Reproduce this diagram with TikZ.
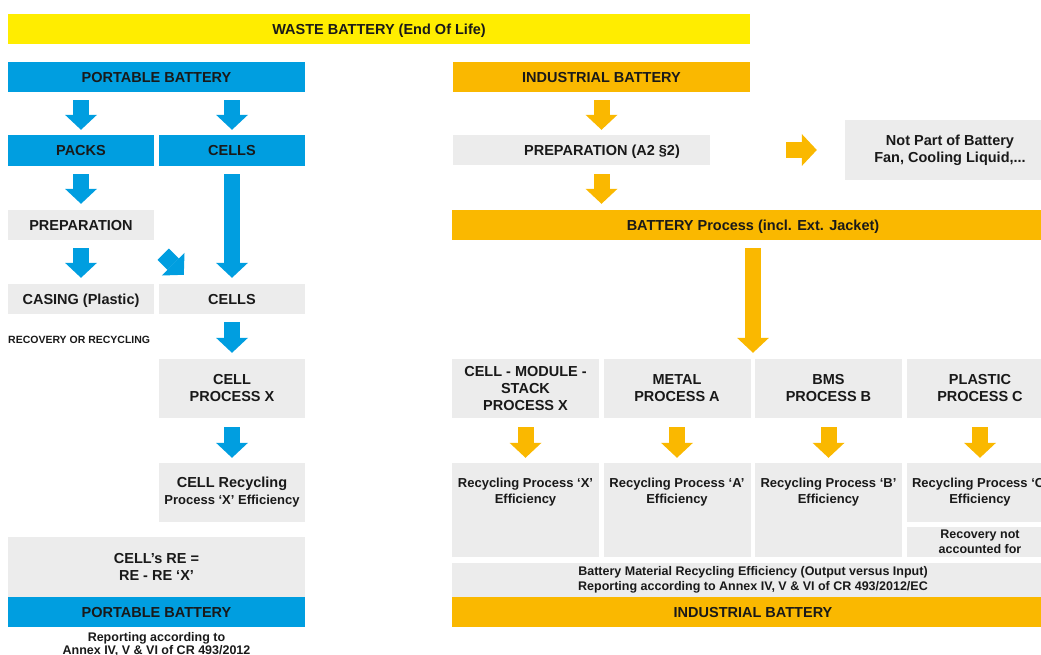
\documentclass[tikz,border=0pt]{standalone}
\usepackage{fontspec}
\setmainfont{Liberation Sans}
\usepackage{tikz}
\usetikzlibrary{positioning, arrows.meta, calc}
\definecolor{BatBlue}{RGB}{0,158,224}
\definecolor{BatOrange}{RGB}{250,184,0}
\definecolor{BatYellow}{RGB}{255,237,0}
\definecolor{BatGray}{RGB}{236,236,236}

\begin{document}
\begin{tikzpicture}[x=1pt, y=-1pt,
            box/.style={rectangle, inner sep=0pt, align=center, text=black!90,
                        font=\bfseries\fontsize{14.5}{17}\selectfont},
            single/.style={text height=10.4pt, text depth=0pt},
            small/.style={font=\bfseries\fontsize{13}{16}\selectfont},
            note/.style={inner sep=0pt, align=center, text=black!90,
                         font=\bfseries\fontsize{10.5}{12}\selectfont},
            lbl/.style={small, inner sep=0pt, align=center, text=black!90},
            wh/.style 2 args={minimum width=#1, minimum height=#2},
            bbox/.style={box, fill=BatBlue},
            obox/.style={box, fill=BatOrange},
            gbox/.style={box, fill=BatGray},
            ybox/.style={box, fill=BatYellow},
            barr/.style={-{Triangle[width=32pt, length=15pt, line width=0pt]},
                         line width=16pt, draw=BatBlue},
            oarr/.style={barr, draw=BatOrange}
          ]
          \useasboundingbox (0,0) rectangle (1041,655);
          \clip (0,0) rectangle (1041,655);

          \node[ybox, single, wh={742pt}{30pt}] (waste) at (379,29) {WASTE BATTERY (End Of Life)};

          % portable side
          \node[bbox, single, wh={297pt}{30pt}] (pbtop) at (156.5,77) {PORTABLE BATTERY};
          \node[bbox, single, wh={146pt}{31pt}] (packs) at (81,150.5) {PACKS};
          \node[bbox, single, wh={146pt}{31pt}] (cellsa) at (232,150.5) {CELLS};
          \node[gbox, single, wh={146pt}{30pt}] (prep) at (81,225) {PREPARATION};
          \node[gbox, single, wh={146pt}{30pt}] (casing) at (81,299) {CASING (Plastic)};
          \node[gbox, single, wh={146pt}{30pt}] (cellsb) at (232,299) {CELLS};
          \node[note, anchor=west] (recov) at (8,340) {RECOVERY OR RECYCLING};
          \node[gbox, wh={146pt}{59pt}] (cproc) at (232,388.5) {CELL\\PROCESS X};
          \node[gbox, wh={146pt}{59pt}] (crec) at (232,492.5)
                {CELL Recycling\\{\fontsize{13}{16}\selectfont Process ‘X’ Efficiency}};
          \node[gbox, wh={297pt}{60pt}] (cre) at (156.5,567) {CELL’s RE =\\RE - RE ‘X’};
          \node[bbox, single, wh={297pt}{30pt}] (pbbot) at (156.5,612) {PORTABLE BATTERY};
          \node[lbl, font=\bfseries\fontsize{12.5}{13}\selectfont, anchor=north] (report)
                at (156.5,632) {Reporting according to\\Annex IV, V \& VI of CR 493/2012};

          \draw[barr, shorten <=8pt, shorten >=5pt] (packs.north |- pbtop.south) -- (packs.north);
          \draw[barr, shorten <=8pt, shorten >=5pt] (cellsa.north |- pbtop.south) -- (cellsa.north);
          \draw[barr, shorten <=8pt, shorten >=6pt] (packs) -- (prep);
          \draw[barr, shorten <=8pt, shorten >=6pt] (prep) -- (casing);
          \draw[barr, shorten <=8pt, shorten >=6pt] (cellsa) -- (cellsb);
          \draw[barr] ($(prep.south east)+(9,14)$) -- ($(cellsb.north west)+(25,-9)$);
          \draw[barr, shorten <=8pt, shorten >=6pt] (cellsb) -- (cproc);
          \draw[barr, shorten <=9pt, shorten >=5pt] (cproc) -- (crec);

          % industrial side
          \node[obox, single, wh={297pt}{30pt}] (ibtop) at (601.5,77) {INDUSTRIAL BATTERY};
          \node[gbox, single, wh={257pt}{30pt}] (prep2) at (581.5,150)
                {\hspace*{41pt}PREPARATION (A2 §2)};
          \node[gbox, wh={210pt}{60pt}] (notpart) at (950,150)
                {Not Part of Battery\\Fan, Cooling Liquid,...};
          \node[obox, single, wh={602pt}{30pt}] (bproc) at (753,225) {BATTERY Process (incl. Ext. Jacket)};

          \foreach \cx/\cn/\ct in {525.5/x/{CELL - MODULE -\\STACK\\PROCESS X},
                                   677/a/{METAL\\PROCESS A},
                                   828.5/b/{BMS\\PROCESS B},
                                   980/c/{PLASTIC\\PROCESS C}} {
            \node[gbox, wh={147pt}{59pt}] (t\cn) at (\cx,388.5) {\ct};
          }
          \foreach \cx/\cn/\cl in {525.5/x/X, 677/a/A, 828.5/b/B} {
            \node[gbox, wh={147pt}{94pt},
                  label={[lbl, anchor=north, yshift=-15pt]north:Recycling Process ‘\cl’\\Efficiency}]
                  (r\cn) at (\cx,510) {};
          }
          \node[gbox, small, wh={147pt}{59pt}] (rc) at (980,492.5) {Recycling Process ‘C’\\Efficiency};
          \node[gbox, wh={147pt}{30pt}, font=\bfseries\fontsize{12.5}{15}\selectfont] (rnot)
                at (980,542) {Recovery not\\accounted for};
          \node[gbox, wh={602pt}{34pt}, font=\bfseries\fontsize{12.5}{15}\selectfont] (bmre) at (753,580)
                {Battery Material Recycling Efficiency (Output versus Input)\\
                 Reporting according to Annex IV, V \& VI of CR 493/2012/EC};
          \node[obox, single, wh={602pt}{30pt}] (ibbot) at (753,612) {INDUSTRIAL BATTERY};

          \draw[oarr, shorten <=8pt, shorten >=5pt] (ibtop.south) -- (ibtop.south |- prep2.north);
          \draw[oarr, shorten <=9pt, shorten >=6pt] (ibtop.south |- prep2.south) -- (ibtop.south |- bproc.north);
          \draw[oarr, shorten <=76pt, shorten >=28pt] (prep2.east) -- (prep2.east -| notpart.west);
          \draw[oarr, shorten <=8pt, shorten >=6pt] (bproc.south) -- (bproc.south |- tx.north);
          \foreach \cn in {x, a, b, c} {
            \draw[oarr, shorten <=9pt, shorten >=5pt] (t\cn) -- (r\cn.north);
          }
        \end{tikzpicture}
\end{document}
